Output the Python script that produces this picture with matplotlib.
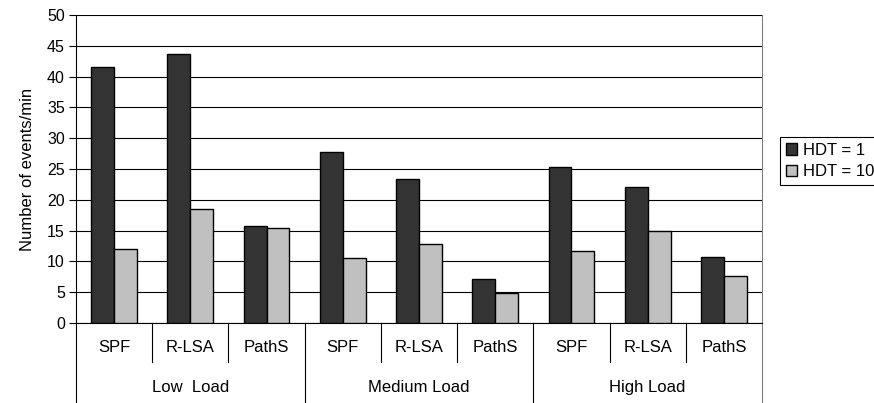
import numpy as np
import matplotlib.pyplot as plt
import matplotlib.transforms as mtransforms

plt.rcParams['font.family'] = ['Liberation Sans', 'DejaVu Sans']
plt.rcParams['font.size'] = 12

# data
groups = ['Low  Load', 'Medium Load', 'High Load']
methods = ['SPF', 'R-LSA', 'PathS']
hdt1 = [41.5, 43.7, 15.8, 27.8, 23.3, 7.1, 25.3, 22.0, 10.7]
hdt10 = [12.0, 18.5, 15.5, 10.6, 12.8, 4.9, 11.7, 14.9, 7.7]
series_labels = ['HDT = 1', 'HDT = 10']

fig = plt.figure(figsize=(8.74, 4.03), dpi=100)
ax = fig.add_axes([76/874, 1-323/403, 686/874, 308/403])

x = np.arange(len(hdt1))
w = 0.3
ax.bar(x - w/2, hdt1, w, color='#333333', edgecolor='black', linewidth=1, label=series_labels[0], zorder=3)
ax.bar(x + w/2, hdt10, w, color='#c0c0c0', edgecolor='black', linewidth=1, label=series_labels[1], zorder=3)

ax.set_xlim(-0.5, len(hdt1) - 0.5)
ax.set_ylim(0, 50)
ax.set_yticks(np.arange(0, 51, 5))
ax.yaxis.grid(True, color='black', linewidth=0.8, zorder=0)
ax.tick_params(axis='y', length=5, width=0.8, direction='out', pad=3, labelsize=11.5)
ax.set_xticks([])
ax.set_ylabel('Number of events/min', labelpad=9)

ax.spines['top'].set_visible(False)
ax.spines['right'].set_color('#808080')
ax.spines['left'].set_linewidth(0.8)
ax.spines['bottom'].set_linewidth(0.8)

# two-level category axis
trans = mtransforms.blended_transform_factory(ax.transData, ax.transAxes)
for i in range(len(hdt1)):
    ax.text(i, -0.081, methods[i % 3], transform=trans, ha='center', va='center')
for g, name in enumerate(groups):
    ax.text(g*3 + 1, -0.211, name, transform=trans, ha='center', va='center')
for b in range(len(hdt1) + 1):
    xb = b - 0.5
    if b % 3 == 0:
        col = '#808080' if b == len(hdt1) else 'black'
        ax.plot([xb, xb], [0, -0.27], transform=trans, color=col, lw=0.8, clip_on=False)
    else:
        ax.plot([xb, xb], [0, -0.127], transform=trans, color='black', lw=0.8, clip_on=False)

leg = fig.legend(loc='upper left', bbox_to_anchor=(780/874, 1-137/403), borderaxespad=0,
                 fancybox=False, edgecolor='black', framealpha=1, handlelength=0.65,
                 handleheight=0.65, handletextpad=0.4, borderpad=0.35, labelspacing=0.4)
leg.get_frame().set_linewidth(0.8)

fig.savefig('out.png', dpi=100)
